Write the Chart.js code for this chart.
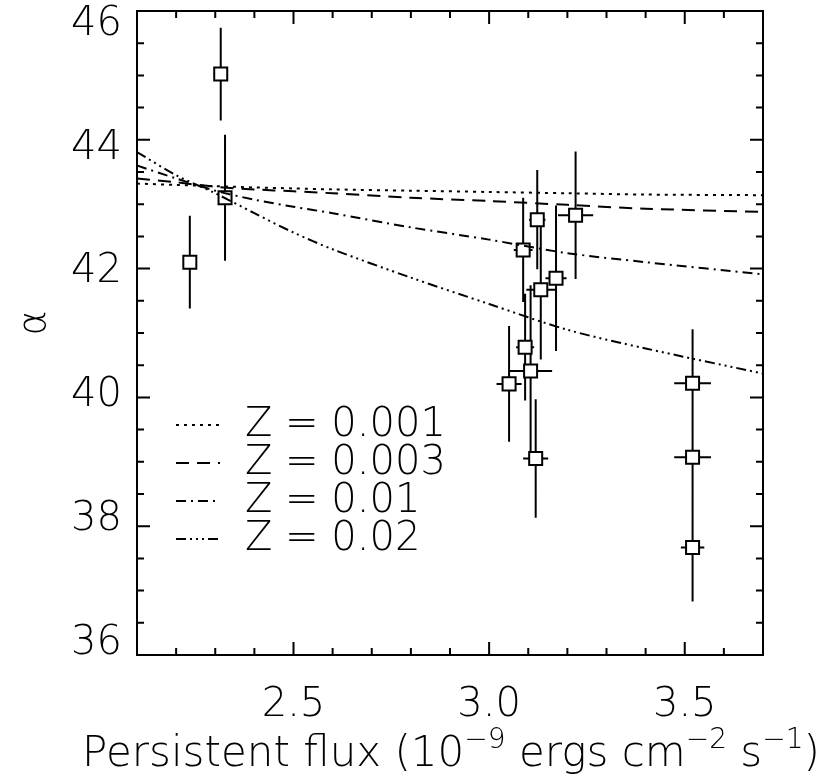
<!DOCTYPE html>
<html>
<head>
<meta charset="utf-8">
<script src="https://cdn.jsdelivr.net/npm/chart.js@4.4.1/dist/chart.umd.min.js"></script>
<style>
  html, body { margin: 0; padding: 0; background: #fff; }
  #wrap { width: 834px; height: 777px; }
</style>
</head>
<body>
<div id="wrap"><canvas id="alphaChart" width="834" height="777"></canvas></div>
<script>
// measured bursts: persistent flux vs alpha, with errors
const pointFlux  = [2.235, 2.314, 2.325, 3.087, 3.123, 3.221, 3.171, 3.132, 3.092, 3.106, 3.051, 3.119, 3.520, 3.520, 3.520];
const pointAlpha = [42.10, 45.02, 43.10, 42.29, 42.76, 42.83, 41.85, 41.67, 40.78, 40.41, 40.21, 39.05, 40.22, 39.07, 37.67];
const alphaErr   = [0.72, 0.72, 0.98, 0.81, 0.77, 0.99, 1.13, 1.08, 0.83, 1.33, 0.90, 0.92, 0.84, 0.90, 0.84];
const fluxErr    = [0, 0, 0, 0.024, 0.021, 0.045, 0.027, 0.037, 0.023, 0.055, 0.032, 0.032, 0.047, 0.047, 0.030];

// model curves for four metallicities
const modelFlux = [2.1, 2.2, 2.3, 2.4, 2.5, 2.6, 2.8, 3.0, 3.2, 3.4, 3.7];
const alphaZ001 = [43.32, 43.30, 43.28, 43.26, 43.245, 43.23, 43.21, 43.19, 43.17, 43.15, 43.14];
const alphaZ003 = [43.40, 43.34, 43.27, 43.23, 43.20, 43.17, 43.10, 43.05, 42.99, 42.93, 42.88];
const alphaZ01  = [43.60, 43.40, 43.21, 43.07, 42.96, 42.86, 42.64, 42.45, 42.24, 42.10, 41.91];
const alphaZ02  = [43.81, 43.45, 43.17, 42.86, 42.56, 42.30, 41.86, 41.45, 41.05, 40.76, 40.37];
const zLabels   = ['0.001', '0.003', '0.01', '0.02'];

const xTicks = [2.5, 3.0, 3.5];
const yTicks = [36, 38, 40, 42, 44, 46];

// thin face first, regular as fallback
const FONT = '"DejaVu Sans ExtraLight", "DejaVu Sans"';
const WEIGHT = '200';
const dashes = [[3, 5], [13, 8], [10, 5, 2, 5], [10, 4, 2, 4, 2, 4, 2, 4]];

function font(size) {
  return WEIGHT + ' ' + size + 'px ' + FONT;
}

function curve(values, i) {
  return {
    type: 'line',
    label: 'Z = ' + zLabels[i],
    data: modelFlux.map((x, k) => ({ x: x, y: values[k] })),
    borderColor: '#000',
    borderWidth: 2,
    borderDash: dashes[i],
    pointRadius: 0,
    fill: false,
    tension: 0.3
  };
}

const points = pointFlux.map((x, i) => ({ x: x, y: pointAlpha[i] }));

// error bars under the markers
const errorBars = {
  id: 'errorBars',
  beforeDatasetsDraw(chart) {
    const { ctx, chartArea, scales: { x, y } } = chart;
    ctx.save();
    ctx.beginPath();
    ctx.rect(chartArea.left, chartArea.top, chartArea.right - chartArea.left, chartArea.bottom - chartArea.top);
    ctx.clip();
    ctx.strokeStyle = '#000';
    ctx.lineWidth = 2;
    ctx.beginPath();
    pointFlux.forEach((fx, i) => {
      const px = x.getPixelForValue(fx);
      const py = y.getPixelForValue(pointAlpha[i]);
      ctx.moveTo(px, y.getPixelForValue(pointAlpha[i] + alphaErr[i]));
      ctx.lineTo(px, y.getPixelForValue(pointAlpha[i] - alphaErr[i]));
      if (fluxErr[i] > 0) {
        ctx.moveTo(x.getPixelForValue(fx - fluxErr[i]), py);
        ctx.lineTo(x.getPixelForValue(fx + fluxErr[i]), py);
      }
    });
    ctx.stroke();
    ctx.restore();
  }
};

// box frame with inward ticks, tick labels, legend and the axis titles
const frame = {
  id: 'frame',
  afterDraw(chart) {
    const { ctx, chartArea: a, scales: { x, y } } = chart;
    ctx.save();
    ctx.strokeStyle = '#000';
    ctx.fillStyle = '#000';
    ctx.lineWidth = 2;
    ctx.strokeRect(a.left, a.top, a.right - a.left, a.bottom - a.top);

    ctx.beginPath();
    for (let v = 2.2; v < 3.7 + 1e-6; v += 0.1) {
      const px = x.getPixelForValue(v);
      const len = xTicks.some(t => Math.abs(t - v) < 1e-6) ? 13 : 7;
      ctx.moveTo(px, a.bottom); ctx.lineTo(px, a.bottom - len);
      ctx.moveTo(px, a.top);    ctx.lineTo(px, a.top + len);
    }
    for (let v = 36.5; v < 46; v += 0.5) {
      const py = y.getPixelForValue(v);
      const len = yTicks.includes(v) ? 13 : 7;
      ctx.moveTo(a.left, py);  ctx.lineTo(a.left + len, py);
      ctx.moveTo(a.right, py); ctx.lineTo(a.right - len, py);
    }
    ctx.stroke();

    // y tick labels, pulled slightly in so the end ones stay inside the frame height
    const mid = (a.top + a.bottom) / 2;
    ctx.font = font(40);
    ctx.textAlign = 'right';
    ctx.textBaseline = 'middle';
    yTicks.forEach(v => {
      const py = y.getPixelForValue(v);
      ctx.fillText(String(v), a.left - 15, py + (mid - py) * 0.038 + 1);
    });

    // x tick labels
    ctx.textAlign = 'center';
    xTicks.forEach(v => {
      ctx.fillText(v.toFixed(1), x.getPixelForValue(v), 706);
    });

    // y title, rotated
    ctx.save();
    ctx.translate(35, 323);
    ctx.rotate(-Math.PI / 2);
    ctx.font = font(38);
    ctx.fillText('α', 0, 0);
    ctx.restore();

    // legend
    ctx.font = font(40);
    ctx.textAlign = 'left';
    const rows = [425, 463, 501, 539];
    zLabels.forEach((z, i) => {
      ctx.setLineDash(dashes[i]);
      ctx.beginPath();
      ctx.moveTo(a.left + 39, rows[i]);
      ctx.lineTo(a.left + 83, rows[i]);
      ctx.stroke();
      ctx.setLineDash([]);
      ctx.fillText('Z = ' + z, a.left + 108, rows[i] + 1);
    });

    // x title with superscripts
    const parts = [
      ['Persistent flux (10', false], ['\u22129', true], [' ergs cm', false],
      ['\u22122', true], [' s', false], ['\u22121', true], [')', false]
    ];
    const big = font(42), small = font(28);
    let width = 0;
    parts.forEach(p => { ctx.font = p[1] ? small : big; width += ctx.measureText(p[0]).width; });
    let cx = 451 - width / 2;
    ctx.textBaseline = 'alphabetic';
    parts.forEach(p => {
      ctx.font = p[1] ? small : big;
      ctx.fillText(p[0], cx, p[1] ? 748 : 766);
      cx += ctx.measureText(p[0]).width;
    });
    ctx.restore();
  }
};

new Chart(document.getElementById('alphaChart'), {
  type: 'scatter',
  data: {
    datasets: [
      curve(alphaZ001, 0),
      curve(alphaZ003, 1),
      curve(alphaZ01, 2),
      curve(alphaZ02, 3),
      {
        label: 'bursts',
        data: points,
        pointStyle: 'rect',
        pointRadius: 9.2,
        borderColor: '#000',
        borderWidth: 2,
        backgroundColor: '#fff'
      },
      {
        label: 'centres',
        data: points,
        pointStyle: 'cross',
        pointRadius: 6.5,
        borderColor: '#000',
        borderWidth: 2
      }
    ]
  },
  options: {
    responsive: false,
    animation: false,
    events: [],
    layout: { autoPadding: false, padding: { top: 11, right: 71, left: 0, bottom: 0 } },
    plugins: { legend: { display: false }, tooltip: { enabled: false } },
    scales: {
      x: {
        type: 'linear', min: 2.1, max: 3.7,
        grid: { display: false, drawTicks: false },
        border: { display: false },
        ticks: { display: false },
        afterBuildTicks: s => { s.ticks = xTicks.map(v => ({ value: v })); },
        afterFit: s => { s.height = 122; }
      },
      y: {
        min: 36, max: 46,
        grid: { display: false, drawTicks: false },
        border: { display: false },
        ticks: { display: false },
        afterBuildTicks: s => { s.ticks = yTicks.map(v => ({ value: v })); },
        afterFit: s => { s.width = 137; }
      }
    }
  },
  plugins: [errorBars, frame]
});
</script>
</body>
</html>
